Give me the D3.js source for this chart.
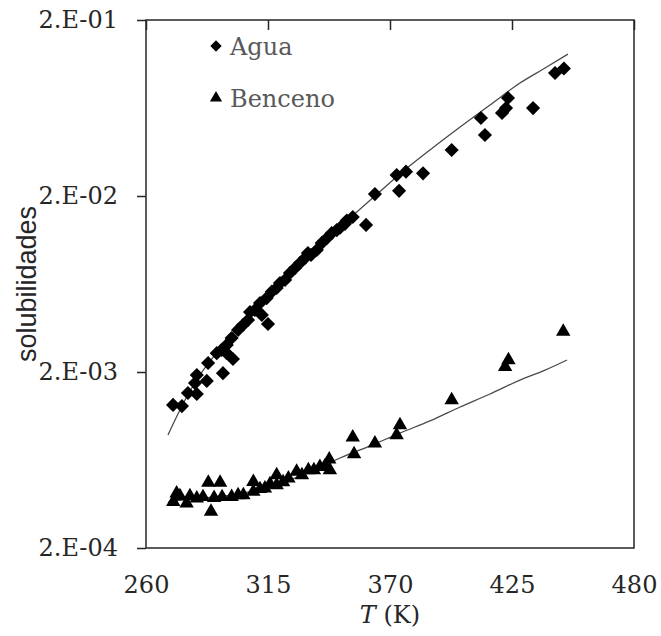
<!DOCTYPE html>
<html>
<head>
<meta charset="utf-8">
<script src="https://cdn.jsdelivr.net/npm/d3@7"></script>
<style>
  html, body { margin: 0; padding: 0; background: #fff; }
  svg { display: block; }
</style>
</head>
<body>
<svg id="chart" width="661" height="636"></svg>
<script>
// ---------------- data ----------------
const xTicks = [260, 315, 370, 425, 480];
const yTicks = [2e-4, 2e-3, 2e-2, 2e-1];
const yTickLabels = ["2.E-04", "2.E-03", "2.E-02", "2.E-01"];
const xTitle = "T";
const xTitleUnit = " (K)";
const yTitle = "solubilidades";
const seriesNames = ["Agua", "Benceno"];

// Agua (water) experimental points
const aguaT = [272.2, 276.2, 278.9, 282.9, 282.1, 282.9, 287.4, 288.0, 294.7, 291.9,
  294.1, 296.4, 296.4, 299.2, 298.6, 301.5, 303.7, 306.0, 306.9, 309.1,
  311.4, 312.2, 315.0, 314.4, 316.7, 318.9, 320.4, 322.7, 324.9, 327.2,
  329.4, 331.7, 333.0, 334.4, 337.0, 339.2, 341.5, 343.7, 346.0, 347.5,
  349.7, 350.5, 353.2, 359.2, 363.2, 373.0, 374.1, 377.2, 384.9, 397.8,
  411.0, 412.8, 420.5, 422.3, 423.2, 434.5, 444.4, 448.4];
const aguaS = [1.30e-3, 1.28e-3, 1.52e-3, 1.50e-3, 1.73e-3, 1.92e-3, 1.78e-3, 2.25e-3, 1.97e-3, 2.56e-3,
  2.67e-3, 2.56e-3, 2.85e-3, 2.37e-3, 3.12e-3, 3.47e-3, 3.70e-3, 3.95e-3, 4.38e-3, 4.50e-3,
  4.93e-3, 4.22e-3, 3.75e-3, 5.26e-3, 5.72e-3, 6.00e-3, 6.41e-3, 6.67e-3, 7.30e-3, 7.80e-3,
  8.32e-3, 8.89e-3, 9.48e-3, 9.24e-3, 9.87e-3, 1.08e-2, 1.15e-2, 1.23e-2, 1.28e-2, 1.32e-2,
  1.39e-2, 1.45e-2, 1.52e-2, 1.37e-2, 2.05e-2, 2.63e-2, 2.14e-2, 2.75e-2, 2.69e-2, 3.65e-2,
  5.55e-2, 4.44e-2, 5.93e-2, 6.32e-2, 7.21e-2, 6.32e-2, 0.100, 0.106];

// Agua model curve
const aguaFitT = [269.9, 277.6, 284.3, 295.6, 306.9, 318.2, 329.4, 340.7, 352.0, 363.2,
  374.5, 388.0, 401.6, 415.1, 428.6, 439.9, 450.2];
const aguaFitS = [8.77e-4, 1.387e-3, 1.923e-3, 2.92e-3, 4.22e-3, 5.85e-3, 8.22e-3, 1.125e-2, 1.50e-2, 2.0e-2,
  2.67e-2, 3.65e-2, 4.93e-2, 6.58e-2, 8.77e-2, 0.1067, 0.128];

// Benceno (benzene) experimental points
const bencT = [272.3, 273.8, 275.3, 278.3, 279.8, 282.9, 285.7, 288.1, 289.3, 290.7,
  293.4, 294.3, 298.6, 301.5, 303.9, 308.4, 308.4, 311.4, 313.6, 315.9,
  318.9, 318.9, 321.8, 324.2, 327.9, 330.3, 333.2, 335.7, 338.4, 340.7,
  342.6, 342.9, 353.2, 353.8, 363.2, 373.0, 374.5, 397.8, 421.9, 423.4, 448.1];
const bencS = [3.66e-4, 4.09e-4, 3.95e-4, 3.59e-4, 3.95e-4, 3.83e-4, 3.90e-4, 4.70e-4, 3.22e-4, 3.85e-4,
  4.70e-4, 3.90e-4, 3.91e-4, 4.00e-4, 4.00e-4, 4.76e-4, 4.18e-4, 4.33e-4, 4.37e-4, 4.62e-4,
  5.20e-4, 4.56e-4, 4.74e-4, 4.98e-4, 5.43e-4, 5.20e-4, 5.55e-4, 5.55e-4, 5.79e-4, 5.84e-4,
  6.38e-4, 5.55e-4, 8.51e-4, 6.84e-4, 7.87e-4, 8.77e-4, 1.00e-3, 1.387e-3, 2.14e-3, 2.34e-3, 3.39e-3];

// Benceno model curve
const bencFitT = [269.9, 279.8, 291.1, 302.4, 313.6, 324.9, 336.2, 347.5, 361.0, 374.5,
  388.0, 401.6, 415.1, 428.6, 439.9, 449.8];
const bencFitS = [3.65e-4, 3.80e-4, 3.90e-4, 4.06e-4, 4.39e-4, 4.87e-4, 5.55e-4, 6.49e-4, 7.60e-4, 9.00e-4,
  1.054e-3, 1.265e-3, 1.50e-3, 1.80e-3, 2.05e-3, 2.34e-3];

// ---------------- drawing ----------------
const svg = d3.select("#chart");
const L = 146, R = 634, T = 20, B = 548;
const x = d3.scaleLinear().domain([260, 480]).range([L, R]);
const y = d3.scaleLog().domain([2e-4, 2e-1]).range([B, T]);

const serif = "'DejaVu Serif', serif";
const axisColor = "#262626";

// model lines
const line = d3.line().x(d => x(d[0])).y(d => y(d[1])).curve(d3.curveMonotoneX);
svg.append("path").datum(d3.zip(aguaFitT, aguaFitS))
  .attr("d", line).attr("fill", "none").attr("stroke", "#4a4a4a").attr("stroke-width", 1.3);
svg.append("path").datum(d3.zip(bencFitT, bencFitS))
  .attr("d", line).attr("fill", "none").attr("stroke", "#4a4a4a").attr("stroke-width", 1.3);

// markers
const diamond = d3.symbol().type(d3.symbolSquare).size(100);
const tri = d3.symbol().type(d3.symbolTriangle).size(90);

svg.append("g").selectAll("path").data(d3.zip(aguaT, aguaS)).join("path")
  .attr("d", diamond)
  .attr("transform", d => `translate(${x(d[0])},${y(d[1])}) rotate(45)`)
  .attr("fill", "#000");

svg.append("g").selectAll("path").data(d3.zip(bencT, bencS)).join("path")
  .attr("d", tri)
  .attr("transform", d => `translate(${x(d[0])},${y(d[1])})`)
  .attr("fill", "#000");

// frame
svg.append("rect").attr("x", L).attr("y", T).attr("width", R - L).attr("height", B - T)
  .attr("fill", "none").attr("stroke", axisColor).attr("stroke-width", 1.5);

// left axis
const yAxis = d3.axisLeft(y).tickValues(yTicks)
  .tickFormat((d, i) => yTickLabels[i]).tickSize(9).tickPadding(19);
const gy = svg.append("g").attr("transform", `translate(${L},0)`).call(yAxis);
gy.select(".domain").remove();
gy.selectAll("line").attr("stroke", axisColor).attr("stroke-width", 1.5);
gy.selectAll("text").attr("font-family", serif).attr("font-size", 24).attr("fill", "#262626");

// top ticks (inward)
const xTopAxis = d3.axisBottom(x).tickValues(xTicks).tickSize(10).tickFormat("");
const gxt = svg.append("g").attr("transform", `translate(0,${T})`).call(xTopAxis);
gxt.select(".domain").remove();
gxt.selectAll("line").attr("stroke", axisColor).attr("stroke-width", 1.5);

// bottom labels
const xAxis = d3.axisBottom(x).tickValues(xTicks).tickSize(0).tickPadding(28).tickFormat(d3.format("d"));
const gx = svg.append("g").attr("transform", `translate(0,${B})`).call(xAxis);
gx.select(".domain").remove();
gx.selectAll("text").attr("font-family", serif).attr("font-size", 24).attr("fill", "#262626");

// x title
const xt = svg.append("text").attr("x", (L + R) / 2).attr("y", 623)
  .attr("text-anchor", "middle").attr("font-family", serif).attr("font-size", 24).attr("fill", "#262626");
xt.append("tspan").attr("font-style", "italic").text(xTitle);
xt.append("tspan").text(xTitleUnit);

// y title
svg.append("text").attr("transform", `translate(36,${(T + B) / 2}) rotate(-90)`)
  .attr("text-anchor", "middle").attr("font-family", "'Liberation Sans', Arial, sans-serif")
  .attr("font-size", 27).attr("fill", "#262626").text(yTitle);

// legend
const lg = svg.append("g");
lg.append("path").attr("d", d3.symbol().type(d3.symbolSquare).size(64))
  .attr("transform", "translate(216,46) rotate(45)").attr("fill", "#000");
lg.append("path").attr("d", d3.symbol().type(d3.symbolTriangle).size(64))
  .attr("transform", "translate(216,98)").attr("fill", "#000");
lg.append("text").attr("x", 230).attr("y", 55).attr("font-family", serif).attr("font-size", 24)
  .attr("fill", "#595959").text(seriesNames[0]);
lg.append("text").attr("x", 230).attr("y", 107).attr("font-family", serif).attr("font-size", 24)
  .attr("fill", "#595959").text(seriesNames[1]);
</script>
</body>
</html>
